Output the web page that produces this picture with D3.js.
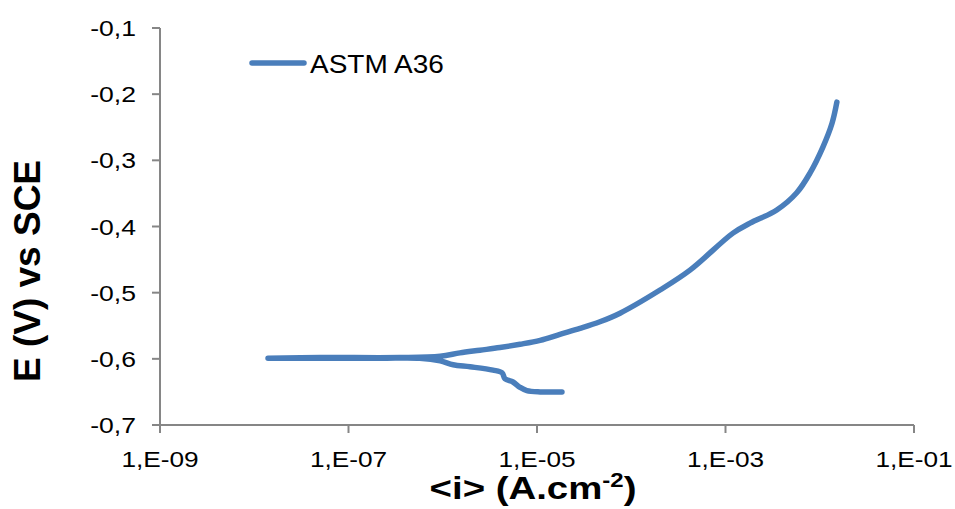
<!DOCTYPE html>
<html>
<head>
<meta charset="utf-8">
<script src="https://cdn.jsdelivr.net/npm/d3@7"></script>
<style>
  body { margin: 0; background: #fff; }
  text { font-family: "Liberation Sans", Arial, sans-serif; fill: #000; }
</style>
</head>
<body>
<div class="canvas"></div>
<script>

// DATA (one sweep: cathodic end -> Ecorr -> anodic end)
var seriesName = "ASTM A36";

var current = [
  1.84e-5, 1.08e-5, 7.8e-6, 6.6e-6, 5.56e-6, 4.57e-6, 4.26e-6, 3.41e-6,
  1.95e-6, 1.29e-6, 9.4e-7, 5.7e-7, 2.2e-7, 5.0e-8, 1.4e-8,
  5.0e-8, 3.5e-7, 9.4e-7, 1.52e-6, 2.48e-6, 4.04e-6, 6.6e-6, 1.08e-5,
  1.75e-5, 2.86e-5, 4.65e-5, 7.6e-5, 2.02e-4, 4.2e-4, 1.2e-3, 1.82e-3,
  3.5e-3, 5.7e-3, 7.9e-3, 1.08e-2, 1.35e-2, 1.52e-2
];

var potential = [
  -0.650, -0.650, -0.648, -0.643, -0.635, -0.630, -0.621, -0.617,
  -0.612, -0.609, -0.603, -0.599, -0.599, -0.599, -0.599,
  -0.598, -0.598, -0.596, -0.591, -0.587, -0.583, -0.578, -0.572,
  -0.563, -0.554, -0.544, -0.531, -0.496, -0.466, -0.410, -0.395,
  -0.375, -0.349, -0.319, -0.280, -0.244, -0.212
];

var xTicks = [1e-9, 1e-7, 1e-5, 1e-3, 1e-1];
var yTicks = [-0.7, -0.6, -0.5, -0.4, -0.3, -0.2, -0.1];

var points = current.map(function(c, i){ return {i: c, e: potential[i]}; });


var svg = d3.select(".canvas")
            .append("svg")
            .attr("width", 955)
            .attr("height", 509);

var x = d3.scaleLog()
          .domain([1e-9, 1e-1])
          .range([160, 914]);

var y = d3.scaleLinear()
          .domain([-0.7, -0.1])
          .range([425, 28]);

var comma = d3.formatLocale({decimal: ",", thousands: ".", grouping: [3], currency: ["", ""], minus: "-"}).format(".1f");

// text in the picture is drawn a bit wider than Arial
function label(px, py, txt, size, stretch, anchor, weight){
  return svg.append("text")
     .attr("transform", "translate(" + px + "," + py + ") scale(" + stretch + ",1)")
     .attr("text-anchor", anchor)
     .style("font-size", size + "px")
     .style("font-weight", weight || "normal")
     .text(txt);
}


// AXES

var axisColor = "#868686";

svg.append("line")
   .attr("x1", x(1e-9)).attr("y1", y(-0.1))
   .attr("x2", x(1e-9)).attr("y2", y(-0.7))
   .attr("stroke", axisColor).attr("stroke-width", 2);

svg.append("line")
   .attr("x1", x(1e-9)).attr("y1", y(-0.7))
   .attr("x2", x(1e-1)).attr("y2", y(-0.7))
   .attr("stroke", axisColor).attr("stroke-width", 2);

yTicks.forEach(function(t){
  svg.append("line")
     .attr("x1", x(1e-9) - 8).attr("y1", y(t))
     .attr("x2", x(1e-9)).attr("y2", y(t))
     .attr("stroke", axisColor).attr("stroke-width", 2);
  label(136, y(t) + 8, comma(t), 22.5, 1.18, "end");
});

xTicks.forEach(function(t){
  svg.append("line")
     .attr("x1", x(t)).attr("y1", y(-0.7))
     .attr("x2", x(t)).attr("y2", y(-0.7) + 8)
     .attr("stroke", axisColor).attr("stroke-width", 2);
  var exp = Math.round(-Math.log10(t));
  label(x(t), 467, "1,E-" + String(exp).padStart(2, "0"), 21.5, 1.22, "middle");
});


// AXIS TITLES

var xt = svg.append("text")
   .attr("transform", "translate(533,499) scale(1.2,1)")
   .attr("text-anchor", "middle")
   .style("font-size", "32px")
   .style("font-weight", "bold");
xt.append("tspan").text("<i> (A.cm");
xt.append("tspan").attr("dy", -12).style("font-size", "20px").text("-2");
xt.append("tspan").attr("dy", 12).text(")");

svg.append("text")
   .attr("transform", "translate(40,271) rotate(-90)")
   .attr("text-anchor", "middle")
   .style("font-size", "37px")
   .style("font-weight", "bold")
   .text("E (V) vs SCE");


// CURVE

var line = d3.line()
             .x(function(d){ return x(d.i); })
             .y(function(d){ return y(d.e); })
             .curve(d3.curveCatmullRom.alpha(0.5));

svg.append("path")
   .datum(points)
   .attr("d", line)
   .attr("fill", "none")
   .attr("stroke", "#4a7ebb")
   .attr("stroke-width", 5.5)
   .attr("stroke-linecap", "round")
   .attr("stroke-linejoin", "round");


// LEGEND

svg.append("line")
   .attr("x1", 252).attr("y1", 63)
   .attr("x2", 304).attr("y2", 63)
   .attr("stroke", "#4a7ebb")
   .attr("stroke-width", 5.5)
   .attr("stroke-linecap", "round");

label(310, 73, seriesName, 25, 1.12, "start");

</script>
</body>
</html>
